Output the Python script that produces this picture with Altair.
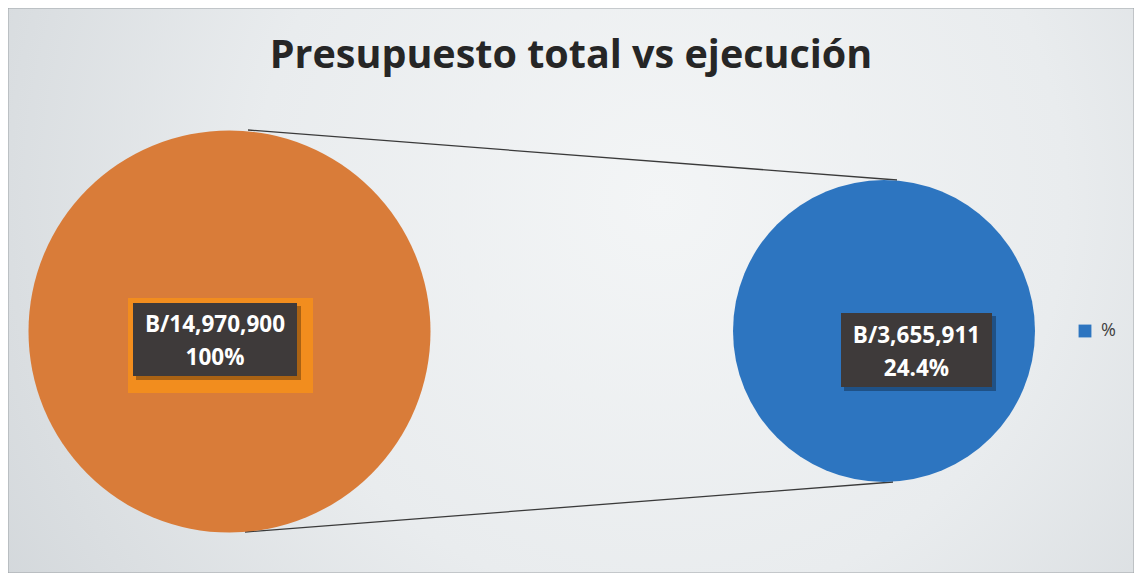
import altair as alt
import pandas as pd

# ---- data ----
categories = ["Presupuesto total", "%"]
values = [14970900, 3655911]
percents = ["100%", "24.4%"]
title_text = "Presupuesto total vs ejecución"

labels = [[f"B/{v:,}", p] for v, p in zip(values, percents)]

W, H = 1126, 565
ORANGE = "#d97c39"
BLUE = "#2d75c0"
FONT = "Open Sans"

one = pd.DataFrame({"k": [0]})
pie_total = pd.DataFrame({"serie": [categories[0]], "valor": [values[0]]})
pie_exec = pd.DataFrame({"serie": [categories[1]], "valor": [values[1]]})

bg = alt.Chart(one).mark_rect(
    color=alt.RadialGradient(
        gradient="radial",
        x1=0.58, y1=0.42, r1=0.0,
        x2=0.58, y2=0.42, r2=0.8,
        stops=[
            alt.GradientStop(offset=0, color="#f3f5f6"),
            alt.GradientStop(offset=0.45, color="#e9ecee"),
            alt.GradientStop(offset=1, color="#cbd0d4"),
        ],
    ),
    stroke="#9ea3a7",
    strokeWidth=1,
).encode(x=alt.value(0), x2=alt.value(W), y=alt.value(0), y2=alt.value(H))

title = alt.Chart(one).mark_text(
    text=title_text, font=FONT, fontSize=39.5, fontWeight="bold", color="#262626",
    align="center", baseline="alphabetic",
).encode(x=alt.value(563), y=alt.value(60))

lines_df = pd.DataFrame({"k": [0]})
line_top = alt.Chart(lines_df).mark_rule(color="#3a3a3a", strokeWidth=1.3).encode(
    x=alt.value(240), y=alt.value(122), x2=alt.value(889), y2=alt.value(172))
line_bot = alt.Chart(lines_df).mark_rule(color="#3a3a3a", strokeWidth=1.3).encode(
    x=alt.value(237), y=alt.value(524), x2=alt.value(885), y2=alt.value(474))

pie1 = alt.Chart(pie_total).mark_arc(radius=201, color=ORANGE).encode(
    theta=alt.Theta("valor:Q"),
    x=alt.value(221.5), y=alt.value(323.5),
)

pie2 = alt.Chart(pie_exec).mark_arc(radius=151).encode(
    theta=alt.Theta("valor:Q"),
    color=alt.Color(
        "serie:N",
        scale=alt.Scale(domain=[categories[1]], range=[BLUE]),
        legend=alt.Legend(
            title=None, orient="none", legendX=1068, legendY=314,
            symbolType="square", symbolSize=165, symbolStrokeWidth=0,
            labelFont=FONT, labelFontSize=18, labelColor="#404040",
            labelOffset=7,
        ),
    ),
    x=alt.value(876), y=alt.value(323),
)

# label boxes
glow = alt.Chart(one).mark_rect(color="#f28d1e").encode(
    x=alt.value(120), x2=alt.value(305), y=alt.value(290), y2=alt.value(385))
shadow1 = alt.Chart(one).mark_rect(color="#000000", opacity=0.3).encode(
    x=alt.value(128), x2=alt.value(293), y=alt.value(298), y2=alt.value(372))
box1 = alt.Chart(one).mark_rect(color="#3e3a3a").encode(
    x=alt.value(125), x2=alt.value(289), y=alt.value(295), y2=alt.value(368))
shadow2 = alt.Chart(one).mark_rect(color="#000000", opacity=0.3).encode(
    x=alt.value(836), x2=alt.value(988), y=alt.value(308), y2=alt.value(383))
box2 = alt.Chart(one).mark_rect(color="#3e3a3a").encode(
    x=alt.value(833), x2=alt.value(984), y=alt.value(305), y2=alt.value(379))

lab_style = dict(font=FONT, fontSize=22.5, fontWeight="bold", color="white",
                 align="center", baseline="middle")


def label_line(txt, xv, yv):
    return alt.Chart(one).mark_text(text=txt, **lab_style).encode(
        x=alt.value(xv), y=alt.value(yv))


t1a = label_line(labels[0][0], 207, 317)
t1b = label_line(labels[0][1], 207, 350)
t2a = label_line(labels[1][0], 908.5, 328)
t2b = label_line(labels[1][1], 908.5, 361)

chart = alt.layer(
    bg, title, line_top, line_bot, pie1, pie2,
    glow, shadow1, box1, t1a, t1b, shadow2, box2, t2a, t2b,
).resolve_scale(
    theta="independent", color="independent",
).properties(
    width=W, height=H, padding=0, autosize=alt.AutoSizeParams(type="none"),
).configure_view(stroke=None)

chart.save("out.html", embed_options={"renderer": "svg", "actions": False})
